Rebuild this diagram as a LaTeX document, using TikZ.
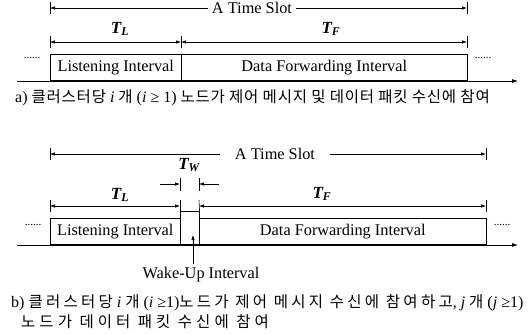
\documentclass[tikz,border=0pt]{standalone}
\usepackage{fontspec}
\setmainfont{Liberation Serif}
\newfontfamily\kra[LetterSpace=5]{Noto Sans CJK KR}
\newfontfamily\krb[LetterSpace=21]{Noto Sans CJK KR}
\newfontfamily\krc[LetterSpace=26]{Noto Sans CJK KR}
\usetikzlibrary{arrows.meta,positioning}
\newcommand{\ko}[2][\krb]{{\fontsize{15.5}{17}\selectfont#1#2}}
\newcommand{\per}[1]{{\bfseries\itshape T\textsubscript{#1}}}

\begin{document}
\begin{tikzpicture}[x=1pt, y=-1pt,
  font=\fontsize{16.3}{18}\selectfont,
  caixa/.style={draw, line width=0.6pt, minimum height=26pt, inner sep=0pt, anchor=south west},
  seta/.style={-{Latex[length=5pt,width=3.5pt]}, line width=0.6pt},
  cota/.style={{Latex[length=5pt,width=3.5pt]}-{Latex[length=5pt,width=3.5pt]}, line width=0.6pt},
  marca/.style={line width=0.6pt},
  eixo/.style={-{Latex[length=6pt,width=4pt]}, line width=0.7pt},
  pontos/.style={font=\fontsize{11}{11}\selectfont, inner sep=0pt},
  rotulo/.style={font=\fontsize{17}{18}\selectfont},
  legenda/.style={anchor=west, inner sep=0pt, font=\fontsize{16}{18}\selectfont}]
\useasboundingbox (0,0) rectangle (528,333);

% a) um intervalo de escuta
\node[caixa, minimum width=131pt] (escA) at (50,81) {Listening Interval};
\node[caixa, minimum width=286pt] (dadA) at (181,81) {Data Forwarding Interval};
\node[pontos] (pA0) at (32,58) {......};
\node[pontos] (pA1) at (483,58) {......};
\coordinate (eA0) at (17,81);
\coordinate (eA1) at (518,81);
\draw[eixo] (eA0) -- (eA1);

\coordinate (sA0) at (50,8);
\coordinate (sA1) at (467,8);
\node[inner xsep=4pt] (slotA) at (252,8) {A Time Slot};
\draw[seta] (slotA.west) -- (sA0);
\draw[seta] (slotA.east) -- (sA1);
\draw[marca] (50,2) -- (50,14);
\draw[marca] (467,2) -- (467,14);

\coordinate (cA0) at (50,42);
\coordinate (cA1) at (181,42);
\coordinate (cA2) at (467,42);
\draw[cota] (cA0) -- (cA1);
\draw[cota] (cA1) -- (cA2);
\foreach \x in {50,181,467}
  \draw[marca] (\x,36) -- (\x,48);
\node[rotulo] (tlA) at (120,29) {\per{L}};
\node[rotulo] (tfA) at (331,29) {\per{F}};

\node[legenda] (legA) at (15,98)
  {a) \ko[\kra]{클러스터당} \textit{i} \ko[\kra]{개} (\textit{i} ≥ 1) \ko[\kra]{노드가 제어 메시지 및 데이터 패킷 수신에 참여}};

% b) com intervalo de despertar
\node[caixa, minimum width=130pt] (escB) at (50,245) {Listening Interval};
\node[caixa, minimum width=19pt, minimum height=33pt] (acoB) at (180,245) {};
\node[caixa, minimum width=287pt] (dadB) at (199,245) {Data Forwarding Interval};
\node[pontos] (pB0) at (33,225) {......};
\node[pontos] (pB1) at (502,225) {......};
\coordinate (eB0) at (17,245);
\coordinate (eB1) at (518,245);
\draw[eixo] (eB0) -- (eB1);

\coordinate (sB0) at (50,154);
\coordinate (sB1) at (486,154);
\node[inner xsep=15pt] (slotB) at (275,154) {A Time Slot};
\draw[seta] (slotB.west) -- (sB0);
\draw[seta] (slotB.east) -- (sB1);
\draw[marca] (50,148) -- (50,160);
\draw[marca] (486,148) -- (486,160);

\coordinate (wB0) at (180,184);
\coordinate (wB1) at (199,184);
\coordinate (wBl) at (160,184);
\coordinate (wBr) at (219,184);
\draw[seta] (wBl) -- (wB0);
\draw[seta] (wBr) -- (wB1);
\draw[marca] (180,178) -- (180,191);
\draw[marca] (199,178) -- (199,191);
\node[rotulo] (twB) at (189,165) {\per{W}};

\coordinate (cB0) at (50,206);
\coordinate (cB1) at (180,206);
\coordinate (cB2) at (199,206);
\coordinate (cB3) at (486,206);
\draw[cota] (cB0) -- (cB1);
\draw[cota] (cB2) -- (cB3);
\foreach \x in {50,486}
  \draw[marca] (\x,200) -- (\x,212);
\draw[marca] (180,200) -- (acoB.north west);
\draw[marca] (199,200) -- (acoB.north east);
\node[rotulo] (tlB) at (120,195) {\per{L}};
\node[rotulo] (tfB) at (322,194) {\per{F}};

\node (wkB) at (201,275) {Wake-Up Interval};
\coordinate (wkB1) at (193,235);
\draw[seta] (wkB.north -| wkB1) -- (wkB1);

\node[legenda] (legB1) at (11,303)
  {b) \ko{클러스터당} \textit{i} \ko{개} (\textit{i} ≥1)\ko{노드가 제어 메시지 수신에 참여하고}, \textit{j} \ko{개} (\textit{j} ≥1)};
\node[legenda] (legB2) at (21,322) {\ko[\krc]{노드가 데이터 패킷 수신에 참여}};
\end{tikzpicture}
\end{document}
